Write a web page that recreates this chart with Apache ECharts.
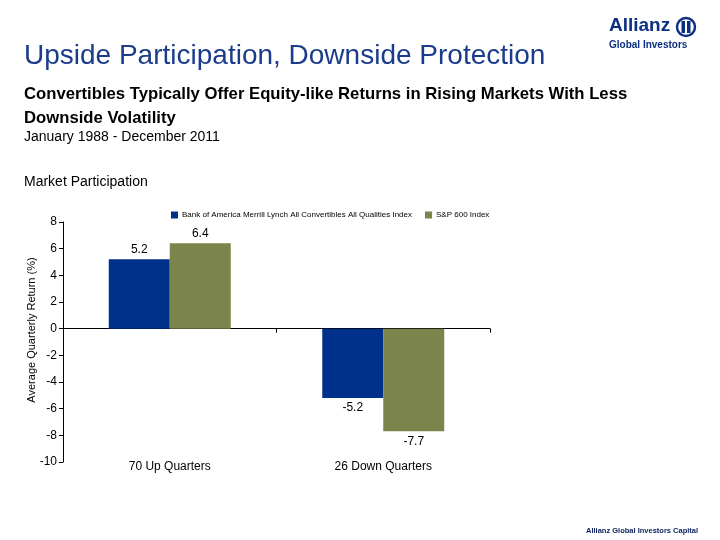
<!DOCTYPE html>
<html>
<head>
<meta charset="utf-8">
<script src="https://cdn.jsdelivr.net/npm/echarts@6/dist/echarts.min.js"></script>
<style>html,body{margin:0;padding:0;background:#fff}#c{width:720px;height:540px}</style>
</head>
<body>
<div id="c"></div>
<script>
var categories = ['70 Up Quarters', '26 Down Quarters'];
var seriesNames = ['Bank of America Merrill Lynch All Convertibles All Qualities Index', 'S&P 600 Index'];
var convertibles = [5.2, -5.2];
var sp600 = [6.4, -7.7];
var yTicks = { min: -10, max: 8, interval: 2 };
var yAxisName = 'Average Quarterly Return (%)';

var FONT = 'Liberation Sans, Arial, sans-serif';
function toItems(arr) {
  return arr.map(function (v) {
    return { value: v, label: { position: v < 0 ? 'bottom' : 'top' } };
  });
}
var chart = echarts.init(document.getElementById('c'));
chart.setOption({
  backgroundColor: '#fff',
  animation: false,
  textStyle: { fontFamily: FONT },
  title: [
    { text: 'Upside Participation, Downside Protection', left: 19, top: 37,
      textStyle: { fontSize: 28, fontWeight: 'normal', color: '#1b3c8c', fontFamily: FONT } },
    { text: 'Convertibles Typically Offer Equity-like Returns in Rising Markets With Less\nDownside Volatility', left: 19, top: 77,
      textStyle: { fontSize: 16.7, fontWeight: 'bold', color: '#000', lineHeight: 24, fontFamily: FONT } },
    { text: 'January 1988 - December 2011', left: 19, top: 125,
      textStyle: { fontSize: 14, fontWeight: 'normal', color: '#000', fontFamily: FONT } },
    { text: 'Market Participation', left: 19, top: 170,
      textStyle: { fontSize: 14, fontWeight: 'normal', color: '#000', fontFamily: FONT } }
  ],
  legend: [
    { data: [seriesNames[0]], left: 166, top: 206, itemWidth: 7, itemHeight: 7, itemGap: 4,
      icon: 'rect', textStyle: { fontSize: 8, color: '#000', padding: [0, 0, 0, -1] } },
    { data: [seriesNames[1]], left: 420, top: 206, itemWidth: 7, itemHeight: 7, itemGap: 4,
      icon: 'rect', textStyle: { fontSize: 8, color: '#000', padding: [0, 0, 0, -1] } }
  ],
  grid: { left: 63, right: 230, top: 222, bottom: 78, containLabel: false },
  xAxis: [
    { type: 'category', data: categories, position: 'bottom',
      axisLine: { onZero: true, lineStyle: { color: '#000', width: 1 } },
      axisTick: { show: true, length: 4, lineStyle: { color: '#000' } },
      axisLabel: { show: false } },
    { type: 'category', data: categories, position: 'bottom',
      axisLine: { show: false, onZero: false }, axisTick: { show: false },
      axisLabel: { show: true, fontSize: 12, color: '#000', margin: -1 } }
  ],
  yAxis: {
    type: 'value', min: yTicks.min, max: yTicks.max, interval: yTicks.interval,
    axisLine: { show: true, lineStyle: { color: '#000' } },
    axisTick: { show: true, length: 4, lineStyle: { color: '#000' } },
    axisLabel: { fontSize: 12, color: '#000', margin: 6 },
    splitLine: { show: false }
  },
  series: [
    { name: seriesNames[0], type: 'bar', xAxisIndex: 0, data: toItems(convertibles),
      barWidth: 61, barGap: '0%', itemStyle: { color: '#00318a' },
      label: { show: true, fontSize: 12, color: '#000', distance: 4 } },
    { name: seriesNames[1], type: 'bar', xAxisIndex: 0, data: toItems(sp600),
      barWidth: 61, barGap: '0%', itemStyle: { color: '#7a844b' },
      label: { show: true, fontSize: 12, color: '#000', distance: 4 } }
  ],
  graphic: [
    { type: 'text', x: 32, y: 330, rotation: Math.PI / 2,
      style: { text: yAxisName, font: '11px ' + FONT, fill: '#000', align: 'center', verticalAlign: 'middle' } },
    { type: 'text', left: 609, top: 16, style: { text: 'Allianz', font: 'bold 19px ' + FONT, fill: '#0b2f82' } },
    { type: 'circle', shape: { cx: 686, cy: 27, r: 9 }, style: { fill: 'none', stroke: '#0b2f82', lineWidth: 2.4 } },
    { type: 'rect', shape: { x: 681.5, y: 21, width: 3.5, height: 12 }, style: { fill: '#0b2f82' } },
    { type: 'rect', shape: { x: 687, y: 21, width: 3.5, height: 12 }, style: { fill: '#0b2f82' } },
    { type: 'text', left: 609, top: 40, style: { text: 'Global Investors', font: 'bold 10px ' + FONT, fill: '#0b2f82' } },
    { type: 'text', left: 586, top: 527, style: { text: 'Allianz Global Investors Capital', font: 'bold 7.5px ' + FONT, fill: '#0a1e5e' } }
  ]
});
</script>
</body>
</html>
